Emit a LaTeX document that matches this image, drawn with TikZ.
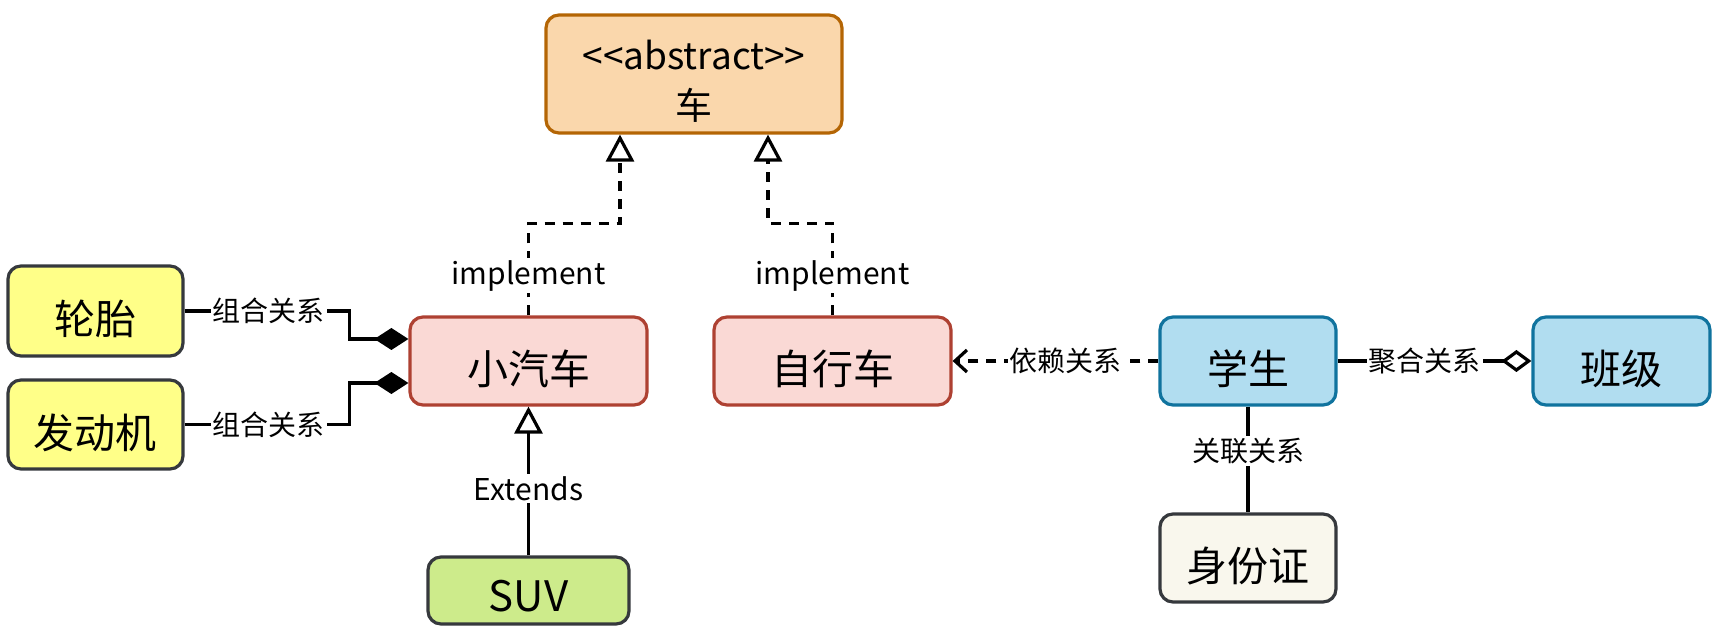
\documentclass[tikz,border=0pt]{standalone}
\usepackage{fontspec}
\setmainfont{Noto Sans CJK SC}
\usetikzlibrary{arrows.meta,calc}
\definecolor{orF}{HTML}{FAD7AC}\definecolor{orD}{HTML}{B46504}
\definecolor{rdF}{HTML}{FAD9D5}\definecolor{rdD}{HTML}{AE4132}
\definecolor{yeF}{HTML}{FFFF88}\definecolor{grD}{HTML}{36393D}
\definecolor{gnF}{HTML}{CDEB8B}
\definecolor{blF}{HTML}{B1DDF0}\definecolor{blD}{HTML}{10739E}
\definecolor{crF}{HTML}{F9F7ED}
\newcommand\lowtxt[2][8pt]{\raisebox{-#1}[\height][\depth]{#2}}
\tikzset{
  box/.style={draw, rounded corners=13pt, line width=3.2pt, inner sep=2pt, align=center,
    font=\fontsize{41}{48}\selectfont},
  conn/.style={line width=3.2pt, draw=black},
  dsh/.style={dash pattern=on 10pt off 8pt},
  lbl/.style={fill=white, inner sep=2pt, font=\fontsize{28}{32}\selectfont},
  lbll/.style={fill=white, inner sep=2pt, font=\fontsize{30}{34}\selectfont},
  realize/.style={-{Triangle[open, fill=white, length=27pt, width=28pt]}},
  compo/.style={-{Diamond[length=34pt, width=22pt]}},
  aggr/.style={-{Diamond[open, fill=white, length=30pt, width=22pt]}},
  depend/.style={-{Straight Barb[length=12pt, width=22pt]}},
}
\begin{document}
\begin{tikzpicture}[x=1pt,y=-1pt]
\useasboundingbox (0,0) rectangle (1722,644);
\node[box, fill=orF, draw=orD, minimum width=296pt, minimum height=118pt,
  font=\fontsize{37}{50}\selectfont] (che) at (694,74) {\lowtxt[7pt]{<\kern0pt<abstract>\kern0pt>}\\\lowtxt[7pt]{车}};
\node[box, fill=yeF, draw=grD, minimum width=175pt, minimum height=90pt] (lt) at (95.5,311) {\lowtxt{轮胎}};
\node[box, fill=yeF, draw=grD, minimum width=175pt, minimum height=89pt] (fdj) at (95.5,424.5) {\lowtxt{发动机}};
\node[box, fill=rdF, draw=rdD, minimum width=237pt, minimum height=88pt] (xqc) at (528.5,361) {\lowtxt{小汽车}};
\node[box, fill=rdF, draw=rdD, minimum width=237pt, minimum height=88pt] (zxc) at (832.5,361) {\lowtxt{自行车}};
\node[box, fill=blF, draw=blD, minimum width=176pt, minimum height=88pt] (xs) at (1248,361) {\lowtxt{学生}};
\node[box, fill=blF, draw=blD, minimum width=177pt, minimum height=88pt] (bj) at (1621.5,361) {\lowtxt{班级}};
\node[box, fill=crF, draw=grD, minimum width=176pt, minimum height=88pt] (sfz) at (1248,558) {\lowtxt{身份证}};
\node[box, fill=gnF, draw=grD, minimum width=201pt, minimum height=67pt,
  font=\fontsize{42}{46}\selectfont] (suv) at (528.5,590.5) {\lowtxt[6pt]{SUV}};

% implement connectors
\draw[conn, dsh, realize] (xqc.north) -- node[lbll, pos=0.43]{implement} ++(0,-92) -| ([xshift=-74pt]che.south);
\draw[conn, dsh, realize] (zxc.north) -- node[lbll, pos=0.43]{implement} ++(0,-92) -| ([xshift=74pt]che.south);
% extends
\draw[conn, realize] (suv.north) -- node[lbll, pos=0.45]{Extends} (xqc.south);
% composition
\draw[conn, compo] (lt.east) -- node[lbl, pos=0.51]{组合关系} ++(165,0) |- ([yshift=22pt]xqc.west);
\draw[conn, compo] (fdj.east) -- node[lbl, pos=0.51]{组合关系} ++(165,0) |- ([yshift=-22pt]xqc.west);
% dependency
\draw[conn, dsh, depend] (xs.west) -- node[lbl, pos=0.45]{依赖关系} (zxc.east);
% aggregation
\draw[conn, aggr] (xs.east) -- node[lbl, pos=0.45]{聚合关系} (bj.west);
% association
\draw[conn] (xs.south) -- node[lbl, pos=0.42]{关联关系} (sfz.north);
\end{tikzpicture}
\end{document}
